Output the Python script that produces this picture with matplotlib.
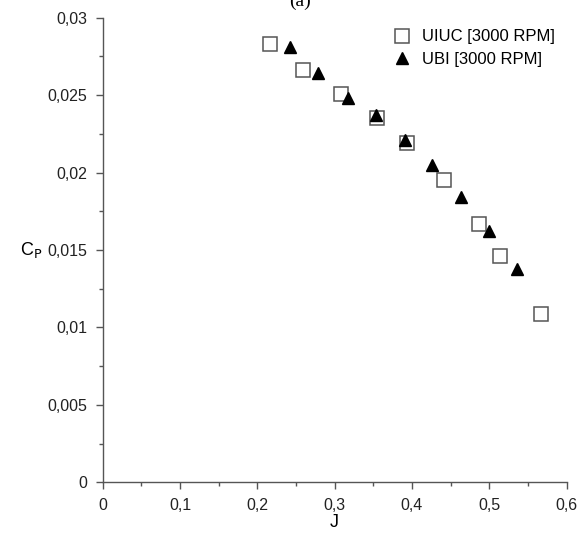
import matplotlib
matplotlib.use('Agg')
import matplotlib.pyplot as plt
from matplotlib.ticker import MultipleLocator, FuncFormatter

plt.rcParams['font.family'] = ['Liberation Sans', 'DejaVu Sans']

# UIUC data (squares)
j_uiuc = [0.217, 0.259, 0.308, 0.355, 0.394, 0.442, 0.486, 0.514, 0.567]
cp_uiuc = [0.0283, 0.0266, 0.0251, 0.0235, 0.0219, 0.0195, 0.0167, 0.0146, 0.0109]

# UBI data (triangles)
j_ubi = [0.242, 0.279, 0.317, 0.353, 0.391, 0.426, 0.463, 0.499, 0.536]
cp_ubi = [0.0281, 0.02645, 0.0248, 0.0237, 0.0221, 0.0205, 0.0184, 0.01625, 0.0138]

fig = plt.figure(figsize=(5.8, 5.38), dpi=100)
ax = fig.add_axes([0.177, 0.1035, 0.8, 0.8635])

ax.plot(j_uiuc, cp_uiuc, 's', ms=10.5, mfc='white', mec='#555555', mew=1.1,
        ls='none', label='UIUC [3000 RPM]')
ax.plot(j_ubi, cp_ubi, '^', ms=9, mfc='black', mec='black',
        ls='none', label='UBI [3000 RPM]')

ax.set_xlim(0, 0.6)
ax.set_ylim(0, 0.03)
ax.xaxis.set_major_locator(MultipleLocator(0.1))
ax.xaxis.set_minor_locator(MultipleLocator(0.05))
ax.yaxis.set_major_locator(MultipleLocator(0.005))
ax.yaxis.set_minor_locator(MultipleLocator(0.0025))

comma = FuncFormatter(lambda v, p: ('%g' % round(v, 4)).replace('.', ','))
ax.xaxis.set_major_formatter(comma)
ax.yaxis.set_major_formatter(comma)

for s in ['top', 'right']:
    ax.spines[s].set_visible(False)
for s in ['left', 'bottom']:
    ax.spines[s].set_color('#555555')
    ax.spines[s].set_linewidth(1.0)

ax.tick_params(which='major', direction='out', length=5, width=1,
               color='#555555', labelsize=11.5, labelcolor='#222222', pad=6)
ax.tick_params(which='minor', direction='out', length=3, width=1,
               color='#555555')

ax.set_xlabel('J', fontsize=13, labelpad=1)
ax.set_ylabel('C$_\\mathrm{P}$', fontsize=13, rotation=0, va='center')
ax.yaxis.set_label_coords(-0.155, 0.5)

ax.legend(loc='upper right', bbox_to_anchor=(1.0, 1.0), frameon=False,
          fontsize=12, handletextpad=0.2, labelspacing=0.45, borderaxespad=0.3)

fig.text(0.517, 0.998, '(a)', family='Liberation Serif', fontsize=14,
         ha='center', va='center')

fig.savefig('out.png', dpi=100)
